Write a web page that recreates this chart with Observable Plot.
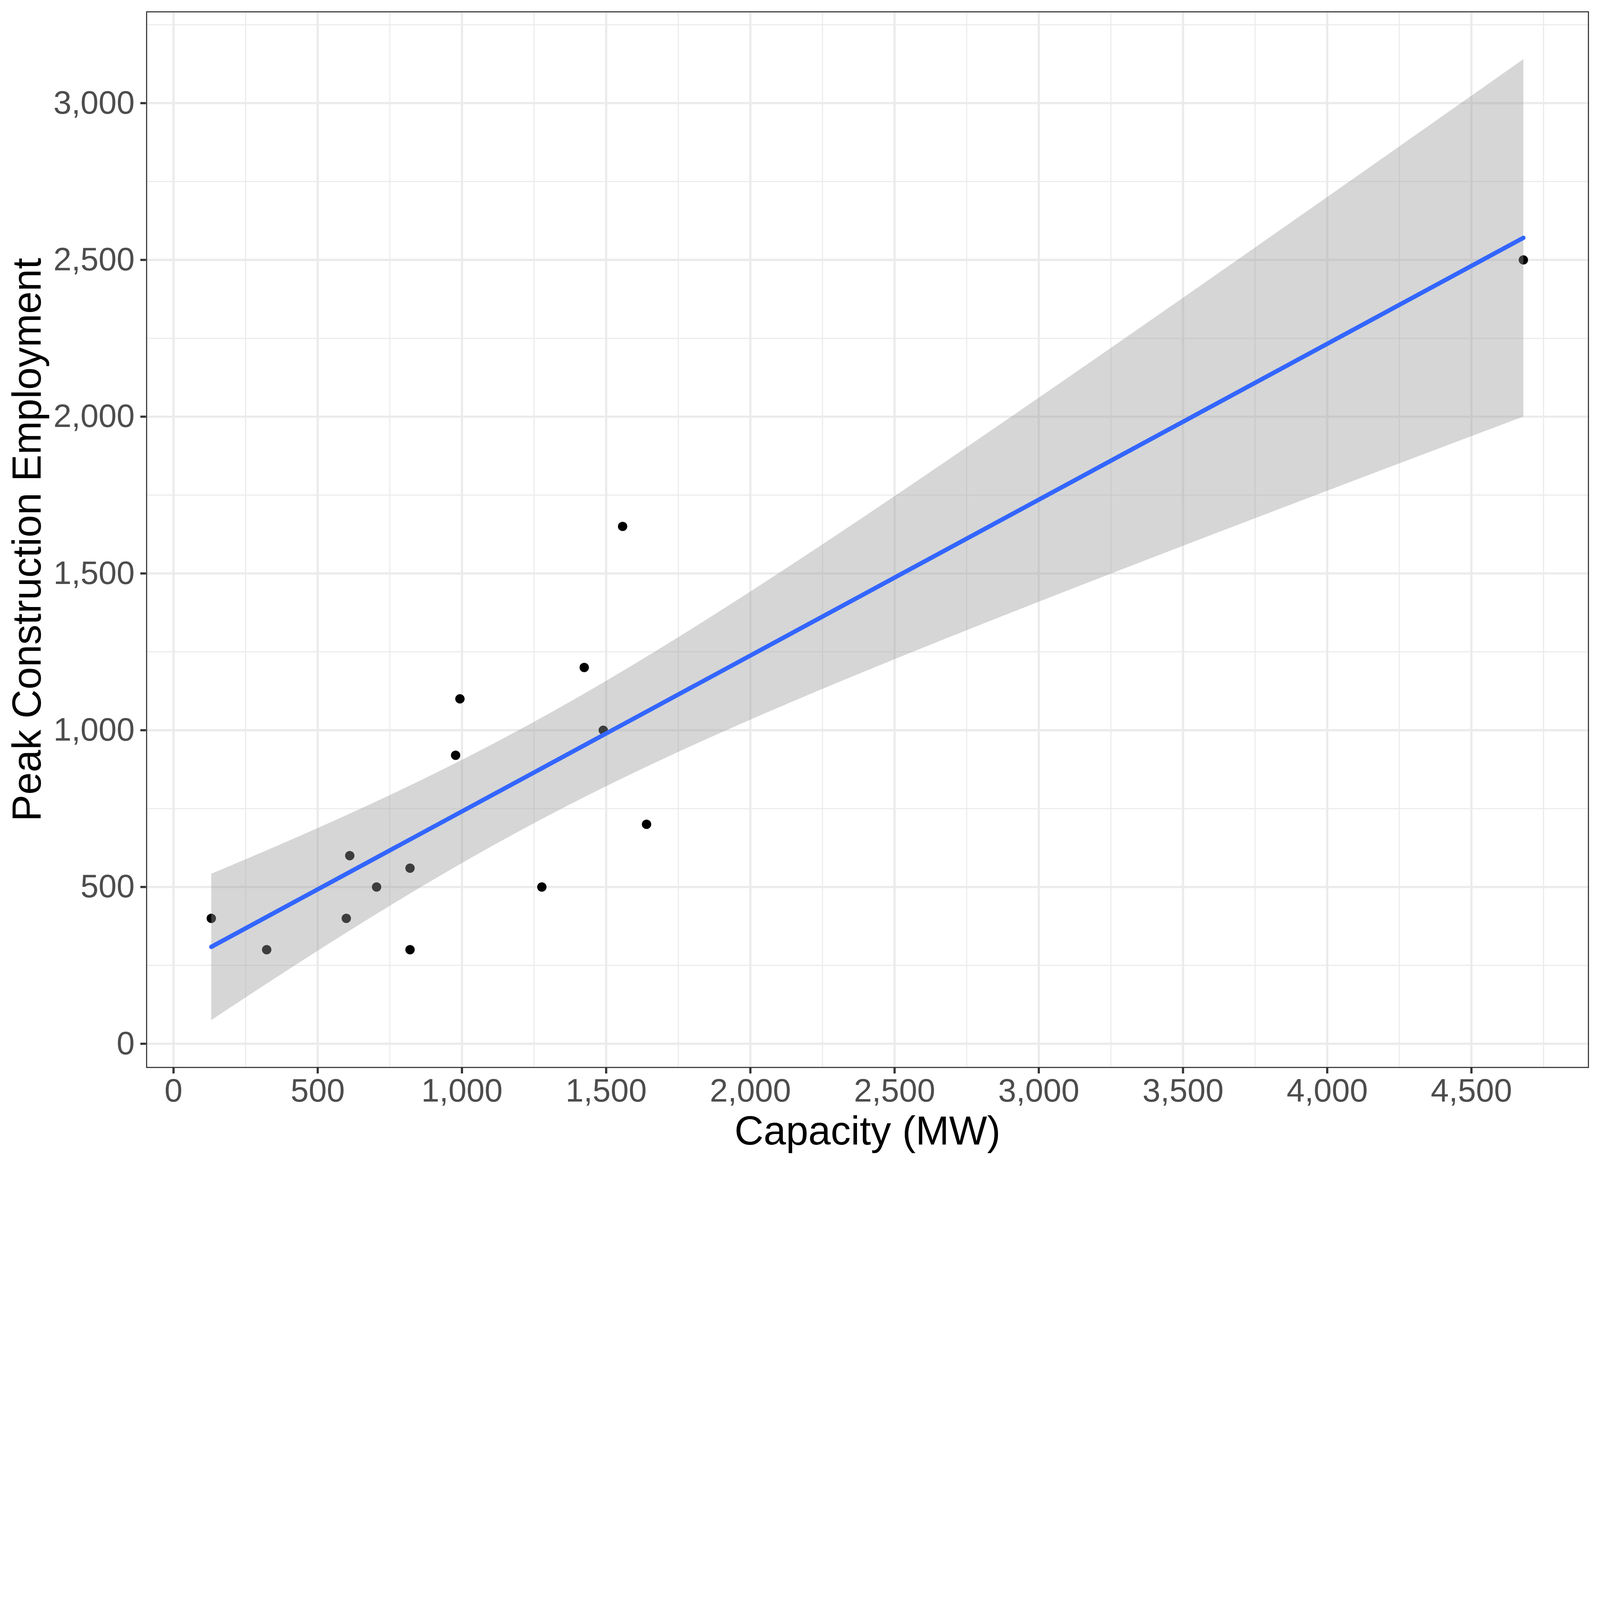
<!DOCTYPE html>
<html>
<head>
<meta charset="utf-8">
<script src="https://cdn.jsdelivr.net/npm/d3@7"></script>
<script src="https://cdn.jsdelivr.net/npm/@observablehq/plot@0.6"></script>
<style>
  html, body { margin: 0; padding: 0; background: #ffffff; }
  #chart svg { display: block; }
</style>
</head>
<body>
<div id="chart"></div>
<script>
// Data
const capacity   = [131, 323, 611, 599, 704, 820, 820, 978, 993, 1277, 1424, 1490, 1557, 1640, 4680];
const employment = [400, 300, 600, 400, 500, 560, 300, 920, 1100, 500, 1200, 1000, 1650, 700, 2500];

const xTicks = [0, 500, 1000, 1500, 2000, 2500, 3000, 3500, 4000, 4500];
const yTicks = [0, 500, 1000, 1500, 2000, 2500, 3000];
const xMinor = [250, 750, 1250, 1750, 2250, 2750, 3250, 3750, 4250, 4750];
const yMinor = [250, 750, 1250, 1750, 2250, 2750, 3250];

const xLabel = "Capacity (MW)";
const yLabel = "Peak Construction Employment";

const data = capacity.map((c, i) => ({capacity: c, employment: employment[i]}));

const fmt = d3.format(",");

const chart = Plot.plot({
  width: 6600,
  height: 4800,
  marginLeft: 602,
  marginRight: 46,
  marginTop: 46,
  marginBottom: 395,
  style: {fontFamily: "'Liberation Sans', Arial, Helvetica, sans-serif", background: "#ffffff"},
  x: {domain: [-95.2, 4907.5]},
  y: {domain: [-77.3, 3293]},
  marks: [
    Plot.gridX(xMinor, {stroke: "#ebebeb", strokeOpacity: 1, strokeWidth: 4.5}),
    Plot.gridY(yMinor, {stroke: "#ebebeb", strokeOpacity: 1, strokeWidth: 4.5}),
    Plot.gridX(xTicks, {stroke: "#ebebeb", strokeOpacity: 1, strokeWidth: 9}),
    Plot.gridY(yTicks, {stroke: "#ebebeb", strokeOpacity: 1, strokeWidth: 9}),
    Plot.dot(data, {x: "capacity", y: "employment", r: 19.3, fill: "#000000", stroke: "none"}),
    Plot.linearRegressionY(data, {
      x: "capacity", y: "employment", ci: 0.95,
      fill: "#999999", fillOpacity: 0.4,
      stroke: "#3366FF", strokeWidth: 18
    }),
    Plot.frame({stroke: "#333333", strokeWidth: 4.5, inset: 2.25}),
    Plot.axisX(xTicks, {
      tickSize: 23, tickPadding: 21, fontSize: 134,
      tickFormat: fmt, stroke: "#333333", strokeWidth: 9, fill: "#4d4d4d", label: null
    }),
    Plot.axisY(yTicks, {
      tickSize: 23, tickPadding: 24, fontSize: 134,
      tickFormat: fmt, stroke: "#333333", strokeWidth: 9, fill: "#4d4d4d", label: null
    }),
    Plot.text([xLabel], {
      text: d => d, frameAnchor: "bottom", textAnchor: "middle", lineAnchor: "bottom",
      dy: 316, fontSize: 166, fill: "#000000"
    }),
    Plot.text([yLabel], {
      text: d => d, frameAnchor: "left", textAnchor: "middle", lineAnchor: "bottom",
      rotate: -90, dx: -435, fontSize: 166, fill: "#000000"
    })
  ]
});

document.getElementById("chart").appendChild(chart);
</script>
</body>
</html>
